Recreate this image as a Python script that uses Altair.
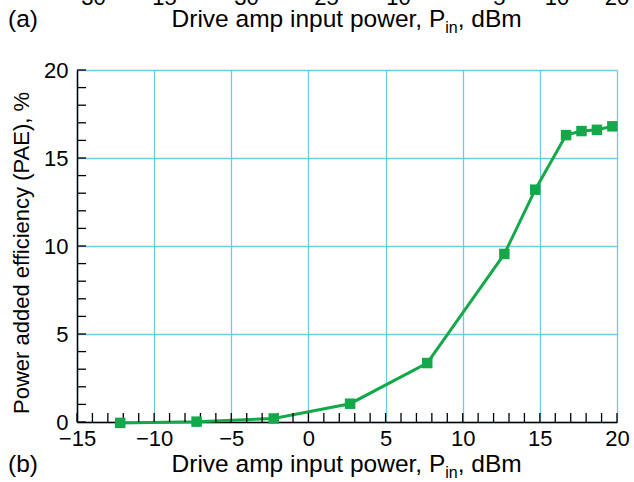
import altair as alt
import pandas as pd

# ---- data ----
pin = [-12.2, -7.25, -2.25, 2.7, 7.7, 12.7, 14.7, 16.7, 17.7, 18.7, 19.7]
pae = [-0.05, 0.02, 0.2, 1.04, 3.35, 9.55, 13.2, 16.3, 16.53, 16.6, 16.8]

x_major = [-15, -10, -5, 0, 5, 10, 15, 20]
y_major = [0, 5, 10, 15, 20]
x_minor = list(range(-15, 21))
y_minor = list(range(0, 21))

# cropped tick labels of panel (a) visible at the very top
top_labels = ["\u221230", "\u221215", "\u221230", "\u221225", "\u221210", "\u22125", "10", "20"]
top_label_x = [87, 158, 240, 320, 392, 493, 557, 617]

GREEN = "#13a84a"
GRID = "#72c9e6"
FONT = "Liberation Sans"
W, H = 540, 352
LEFT, TOP = 77, 70

TFS = 24.5  # title font size
SFS = 16    # subscript font size
w1 = 11.226 * TFS
wsub = 0.778 * SFS
w3 = 2.612 * TFS
center = 346 - LEFT
xstart = center - (w1 + wsub + w3) / 2
xP = xstart + w1

xs = alt.Scale(domain=[-15, 20], nice=False, zero=False)
ys = alt.Scale(domain=[0, 20], nice=False, zero=False)

df = pd.DataFrame({"pin": pin, "pae": pae})

axis_common = dict(
    grid=True, gridColor=GRID, gridWidth=1.3, gridOpacity=1,
    ticks=False, domainColor="black", domainWidth=1.5,
    labelFont=FONT, labelFontSize=22, labelColor="black", title=None,
    format="d", labelFlush=False, labelOverlap=False,
)
XAX = alt.Axis(values=x_major, labelPadding=6, **axis_common)
YAX = alt.Axis(values=y_major, labelPadding=9, **axis_common)

line = alt.Chart(df).mark_line(color=GREEN, strokeWidth=3).encode(
    x=alt.X("pin:Q", scale=xs, axis=XAX),
    y=alt.Y("pae:Q", scale=ys, axis=YAX),
)
pts = alt.Chart(df).mark_point(shape="square", filled=True, size=110,
                               opacity=1, color=GREEN).encode(
    x=alt.X("pin:Q", scale=xs, axis=XAX), y=alt.Y("pae:Q", scale=ys, axis=YAX))

xt = alt.Chart(pd.DataFrame({"t": x_minor})).mark_rule(
    color="black", strokeWidth=1.3).encode(
    x=alt.X("t:Q", scale=xs, axis=XAX),
    y=alt.value(H), y2=alt.value(H - 9))
yt = alt.Chart(pd.DataFrame({"t": y_minor})).mark_rule(
    color="black", strokeWidth=1.3).encode(
    y=alt.Y("t:Q", scale=ys, axis=YAX),
    x=alt.value(0), x2=alt.value(9))


def label(text, x, y, size=TFS, align="left", angle=0):
    return alt.Chart(pd.DataFrame({"s": [text]})).mark_text(
        font=FONT, fontSize=size, color="black", align=align,
        baseline="alphabetic", angle=angle).encode(
        x=alt.value(x), y=alt.value(y), text="s:N")


def pin_title(ybase):
    return [
        label("Drive amp input power, P", xP, ybase, align="right"),
        label("in", xP, ybase + 6, size=SFS),
        label(", dBm", xP + wsub, ybase),
    ]


layers = [line, xt, yt, pts]
layers += pin_title(472 - TOP)
layers += [label("(b)", 8 - LEFT, 472 - TOP)]
layers += pin_title(27 - TOP)
layers += [label("(a)", 8 - LEFT, 27 - TOP)]
layers += [label(t, x - LEFT, 5 - TOP, size=22, align="center")
           for t, x in zip(top_labels, top_label_x)]
layers += [label("Power added efficiency (PAE), %", 29 - LEFT, 253 - TOP,
                 size=22, align="center", angle=270)]

chart = alt.layer(*layers).properties(
    width=W, height=H,
    autosize=alt.AutoSizeParams(type="none"),
    padding={"left": LEFT, "top": TOP, "right": 634 - LEFT - W, "bottom": 482 - TOP - H},
    background="white",
).configure_view(stroke=None)

chart.save("out.html", embed_options={"renderer": "svg", "actions": False})
